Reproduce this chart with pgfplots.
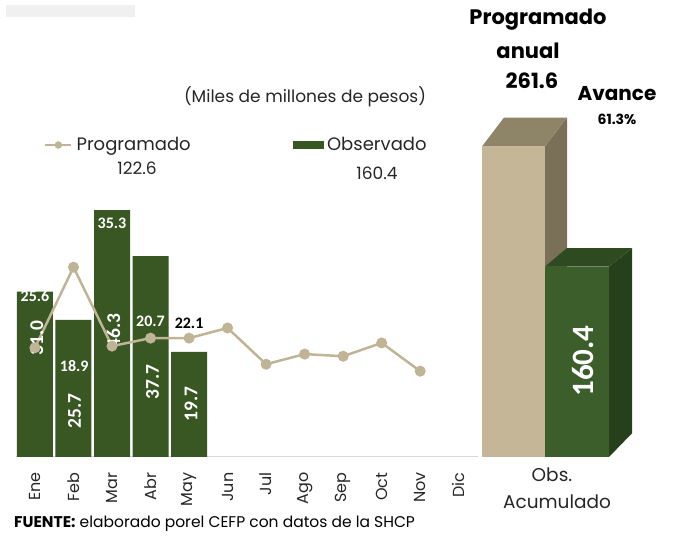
\documentclass[border=0pt]{standalone}
\usepackage{pgfplots}
\pgfplotsset{compat=1.18}
\usepackage{fontspec}
\setmainfont{Poppins}
\newfontfamily\carlito{Carlito}
\definecolor{obsgreen}{HTML}{385723}
\definecolor{tanline}{HTML}{BFB496}
\definecolor{tanfront}{HTML}{C4B696}
\definecolor{tantop}{HTML}{8E8468}
\definecolor{tanside}{HTML}{7A7058}
\definecolor{gfront}{HTML}{3B5E2B}
\definecolor{gtop}{HTML}{2E4A20}
\definecolor{gside}{HTML}{25401A}
\definecolor{txt}{HTML}{262626}
\newcommand{\fs}[1]{\fontsize{#1}{#1}\selectfont}
\begin{document}
\begin{tikzpicture}[x=1pt,y=1pt]
\path[use as bounding box] (0,0) rectangle (673,537);
\fill[black!6] (6,520) rectangle (135,532);
\begin{axis}[name=L,
 at={(15.7pt,80pt)}, anchor=south west, scale only axis,
 width=462.3pt, height=306pt,
 xmin=-0.5, xmax=11.5, ymin=0, ymax=57.4,
 axis x line*=bottom, axis y line=none,
 x axis line style={draw=black!15, line width=1pt},
 xtick={0,...,11},
 xticklabels={Ene,Feb,Mar,Abr,May,Jun,Jul,Ago,Sep,Oct,Nov,Dic},
 xticklabel style={rotate=90, anchor=east, font=\fs{16}, text=txt},
 xticklabel shift=12pt,
 major tick length=0pt,
 clip=false,
 legend columns=2,
 legend style={at={(axis description cs:0.061,1.0196)}, anchor=west, draw=none, fill=none,
   font=\fs{18}, text=txt, inner sep=0pt,
   /tikz/every odd column/.style={column sep=2pt},
   /tikz/column 2/.style={column sep=100pt}},
]
\addlegendimage{legend image code/.code={\draw[tanline,line width=2.5pt] (0pt,0pt) -- (26pt,0pt); \fill[tanline] (13pt,0pt) circle (3.5pt);}}
\addlegendentry{Programado}
\addlegendimage{legend image code/.code={\fill[obsgreen] (0pt,-3.5pt) rectangle (30pt,3.5pt);}}
\addlegendentry{Observado}
\addplot[ybar, bar width=36pt, bar shift=0pt, fill=obsgreen, draw=none, forget plot]
  coordinates {(0,31.0)(1,25.7)(2,46.3)(3,37.7)(4,19.7)};
\addplot[tanline, line width=2.5pt, mark=*, mark size=4.2pt, mark options={fill=tanline, draw=tanline}, forget plot]
  coordinates {(0,20.5)(1,35.6)(2,20.8)(3,22.3)(4,22.3)(5,24.2)(6,17.4)(7,19.3)(8,18.9)(9,21.4)(10,16.1)};
% programado labels
\node[font=\carlito\bfseries\fs{16}, text=white] at (axis cs:0,30.2) {25.6};
\node[font=\carlito\bfseries\fs{16}, text=white] at (axis cs:1.02,17.1) {18.9};
\node[font=\carlito\bfseries\fs{16}, text=white] at (axis cs:2,43.9) {35.3};
\node[font=\carlito\bfseries\fs{16}, text=white] at (axis cs:3,25.5) {20.7};
\node[font=\carlito\bfseries\fs{16}, text=black] at (axis cs:4,25.1) {22.1};
% observado labels
\node[rotate=90, font=\carlito\bfseries\fs{19.5}, text=white] at (axis cs:0.05,22.3) {31.0};
\node[rotate=90, font=\carlito\bfseries\fs{19.5}, text=white] at (axis cs:1.03,8.6) {25.7};
\node[rotate=90, font=\carlito\bfseries\fs{19.5}, text=white] at (axis cs:2.04,23.6) {46.3};
\node[rotate=90, font=\carlito\bfseries\fs{19.5}, text=white] at (axis cs:3.05,14.1) {37.7};
\node[rotate=90, font=\carlito\bfseries\fs{19.5}, text=white] at (axis cs:4.05,9.9) {19.7};
\end{axis}
\begin{axis}[name=R,
 at={(478pt,80pt)}, anchor=south west, scale only axis,
 width=195pt, height=357pt,
 xmin=478, xmax=673, ymin=0, ymax=300.76,
 axis lines=none, clip=false,
]
\addplot[fill=tanside, draw=none] coordinates {(545,261.6)(567,286)(567,24)(545,0)} -- cycle;
\addplot[fill=tantop, draw=none] coordinates {(482,261.6)(504,286)(567,286)(545,261.6)} -- cycle;
\addplot[ybar, bar width=63pt, bar shift=0pt, fill=tanfront, draw=none] coordinates {(513.5,261.6)};
\addplot[fill=gside, draw=none] coordinates {(609,160.4)(632,176)(632,20)(609,0)} -- cycle;
\addplot[fill=gtop, draw=none] coordinates {(545,160.4)(567,176)(632,176)(609,160.4)} -- cycle;
\addplot[ybar, bar width=64pt, bar shift=0pt, fill=gfront, draw=none] coordinates {(577,160.4)};
\node[rotate=90, font=\carlito\bfseries\fs{31}, text=white] at (axis cs:583,80.9) {160.4};
\end{axis}
\node[font=\fs{17}, text=txt] at (305,440) {(Miles de millones de pesos)};
\node[font=\fs{17}, text=txt] at (137,369) {122.6};
\node[font=\fs{17}, text=txt] at (377,364) {160.4};
\node[font=\bfseries\fs{21}, text=black] at (538,517) {Programado};
\node[font=\bfseries\fs{21}, text=black] at (528,486) {anual};
\node[font=\bfseries\fs{21}, text=black] at (532,456) {261.6};
\node[font=\bfseries\fs{20}, text=black] at (617,443) {Avance};
\node[font=\bfseries\fs{14}, text=black] at (617,418) {61.3\%};
\node[font=\fs{18.5}, text=txt] at (552,62) {Obs.};
\node[font=\fs{18.5}, text=txt] at (557,35) {Acumulado};
\node[anchor=west, font=\fs{15.5}, text=black, inner sep=0pt] at (14,13) {\textbf{FUENTE:} elaborado porel CEFP con datos de la SHCP};
\end{tikzpicture}
\end{document}
